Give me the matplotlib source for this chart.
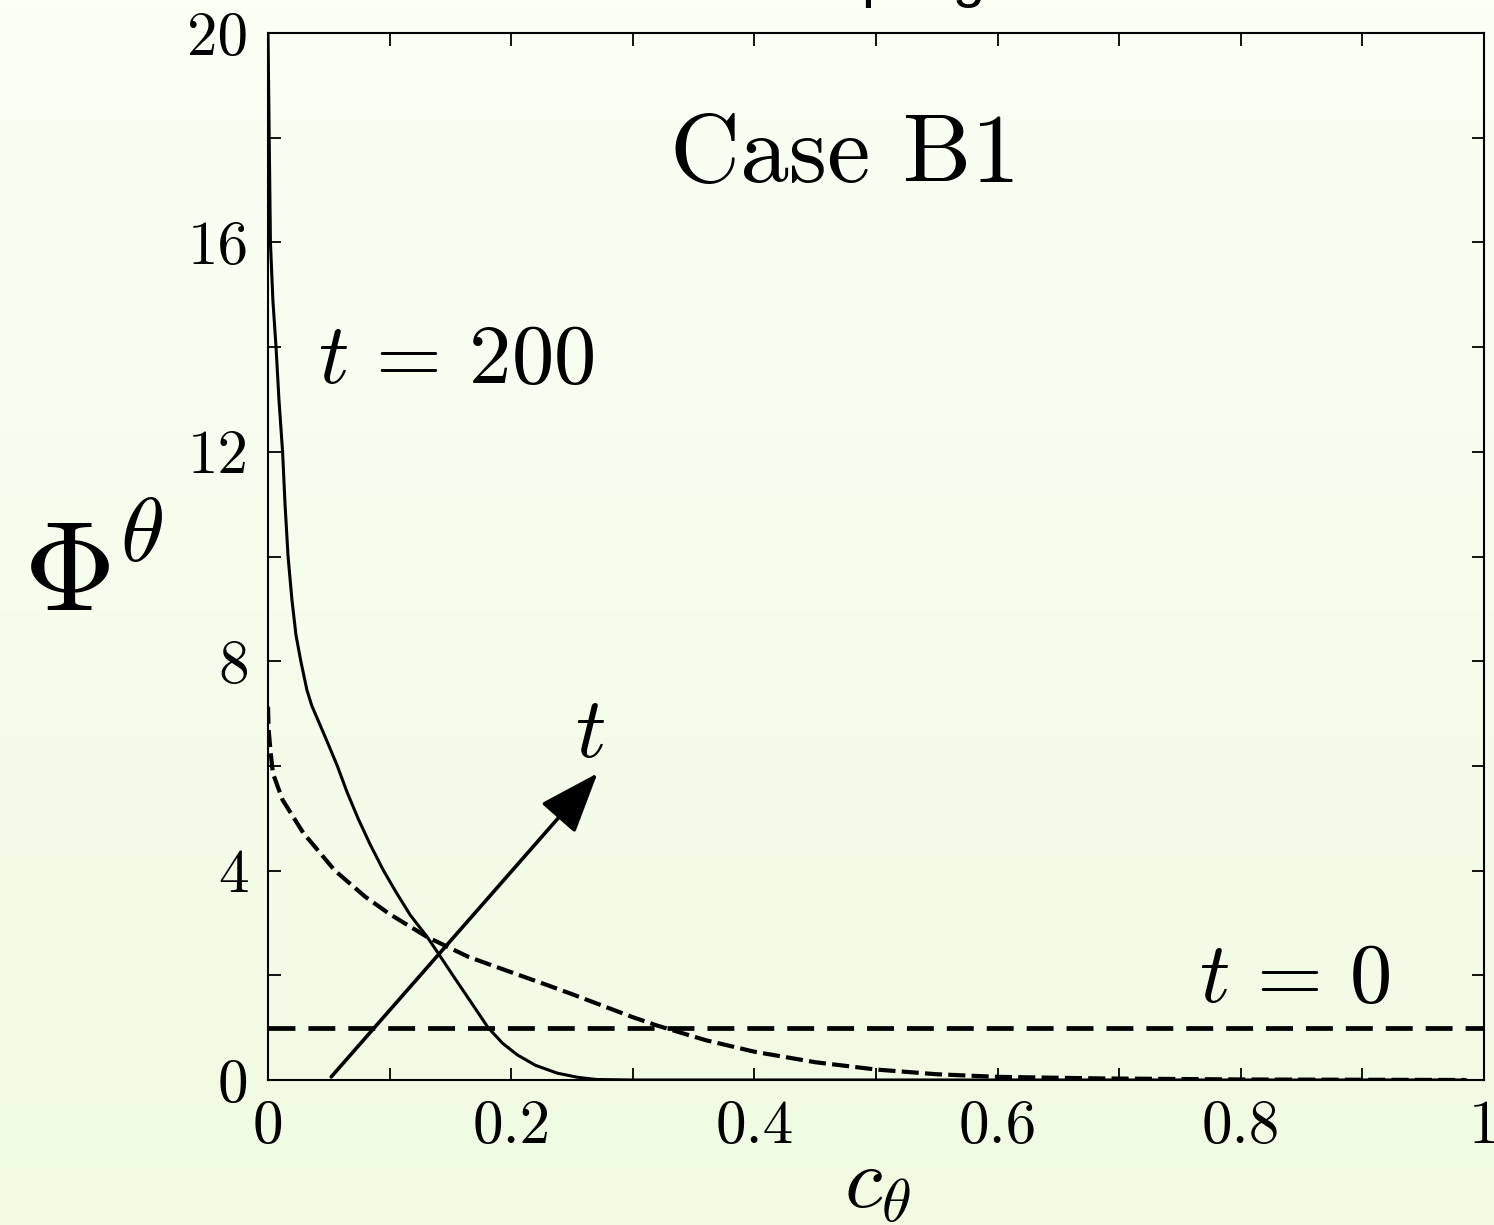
import numpy as np
import matplotlib
matplotlib.use("Agg")
import matplotlib.pyplot as plt

plt.rcParams['mathtext.fontset'] = 'cm'
plt.rcParams['axes.unicode_minus'] = False

# ---- data -------------------------------------------------------------
# late-time profile, t = 200 (solid)
c_late = [0, 0.001, 0.002, 0.004, 0.0066, 0.009, 0.012, 0.014, 0.0165, 0.0197,
          0.023, 0.027, 0.032, 0.036, 0.041, 0.048, 0.057, 0.065, 0.074, 0.084,
          0.095, 0.105, 0.117, 0.131, 0.142, 0.152, 0.168, 0.181, 0.193, 0.205,
          0.22, 0.238, 0.255, 0.27, 0.3, 0.6, 0.985]
phi_late = [20, 18, 16, 14.9, 14, 13, 12, 11, 10, 9.17,
            8.5, 8, 7.45, 7.15, 6.88, 6.5, 6.0, 5.5, 5.0, 4.5,
            4.0, 3.6, 3.15, 2.73, 2.35, 2.0, 1.45, 1.0, 0.7, 0.48,
            0.28, 0.13, 0.05, 0.01, 0, 0, 0]

# intermediate profile (short dashes)
c_mid = [0, 0.0005, 0.002, 0.004, 0.012, 0.029, 0.055, 0.08, 0.1, 0.131,
         0.165, 0.207, 0.23, 0.25, 0.3, 0.32, 0.36, 0.4, 0.45, 0.5, 0.55,
         0.6, 0.685, 0.8, 0.985]
phi_mid = [7.13, 6.7, 6.3, 5.86, 5.35, 4.72, 4.0, 3.5, 3.17, 2.73,
           2.35, 2.0, 1.81, 1.64, 1.2, 1.04, 0.76, 0.54, 0.34, 0.2, 0.11,
           0.06, 0.03, 0.01, 0.0]

# initial uniform profile, t = 0 (long dashes)
c_init = [0, 1]
phi_init = [1, 1]

# time-direction arrow (tail, head)
arrow_tail = (0.052, 0.06)
arrow_head = (0.271, 5.86)

x_major = [0, 0.2, 0.4, 0.6, 0.8, 1]
x_major_labels = ['0', '0.2', '0.4', '0.6', '0.8', '1']
x_minor = [0.1, 0.3, 0.5, 0.7, 0.9]
y_major = [0, 4, 8, 12, 16, 20]
y_major_labels = ['0', '4', '8', '12', '16', '20']
y_minor = [2, 6, 10, 14, 18]

# ---- figure -----------------------------------------------------------
W, H = 1494, 1225
fig = plt.figure(figsize=(W / 100, H / 100), dpi=100)

# soft vertical background gradient
bg = fig.add_axes([0, 0, 1, 1], zorder=-10)
top_col = np.array([251, 255, 246]) / 255.0
bot_col = np.array([240, 251, 226]) / 255.0
t = np.linspace(0, 1, 256)[:, None]
grad = top_col[None, :] * (1 - t) + bot_col[None, :] * t
bg.imshow(grad[:, None, :], aspect='auto', extent=[0, 1, 0, 1])
bg.set_axis_off()

ax = fig.add_axes([268 / W, 1 - 1080 / H, (1484 - 268) / W, (1080 - 33) / H])
ax.set_facecolor('none')

ax.plot(c_late, phi_late, color='black', lw=2.2, solid_joinstyle='round')
ax.plot(c_mid, phi_mid, color='black', lw=3.0, dashes=(4.1, 1.5))
ax.plot(c_init, phi_init, color='black', lw=3.4, dashes=(5.7, 2.75))

ax.annotate('', xy=arrow_head, xytext=arrow_tail,
            arrowprops=dict(arrowstyle='-|>,head_length=0.4,head_width=0.15',
                            mutation_scale=95, lw=2.6, color='black',
                            shrinkA=0, shrinkB=0))

ax.set_xlim(0, 1)
ax.set_ylim(0, 20)
ax.set_xticks(x_major)
ax.set_xticklabels(x_major_labels)
ax.set_xticks(x_minor, minor=True)
ax.set_yticks(y_major)
ax.set_yticklabels(y_major_labels)
ax.set_yticks(y_minor, minor=True)

for lab in ax.get_xticklabels() + ax.get_yticklabels():
    lab.set_fontfamily('cmr10')
    lab.set_fontsize(44)

ax.tick_params(which='both', direction='in', top=True, right=True,
               length=9, width=1.3, color='black')
ax.tick_params(axis='x', which='major', pad=14)
ax.tick_params(axis='y', which='major', pad=14)
for s in ax.spines.values():
    s.set_linewidth(1.5)

# annotations
ax.text(0.4745, 17.15, 'Case B1', fontfamily='cmr10', fontsize=70,
        ha='center', va='baseline')
ax.text(0.041, 13.31, r'$t\,=\,200$', fontsize=61, ha='left', va='baseline')
ax.text(0.2525, 6.17, r'$t$', fontsize=61, ha='left', va='baseline')
ax.text(0.766, 1.49, r'$t\,=\,0$', fontsize=61, ha='left', va='baseline')

fig.text(93 / W, 1 - 575 / H, r'$\Phi^{\theta}$', fontsize=92,
         ha='center', va='center')
fig.text(877 / W, 1 - 1207 / H, r'$c_{\theta}$', fontsize=62,
         ha='center', va='baseline')

# heading above the frame
fig.text(870 / W, 1 + 4 / H, 'Coupling', fontfamily='Liberation Sans',
         fontsize=42, ha='center', va='baseline')

fig.savefig('out.png', dpi=100)
